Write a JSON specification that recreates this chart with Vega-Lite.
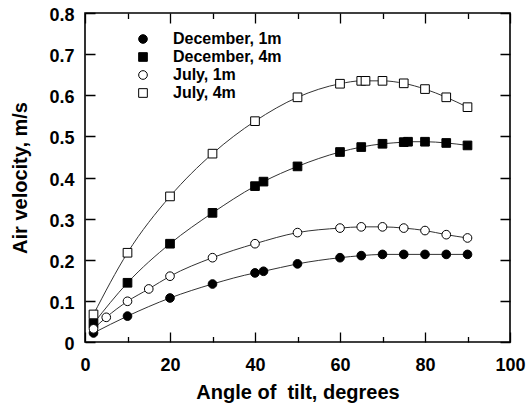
{
  "$schema": "https://vega.github.io/schema/vega-lite/v6.json",
  "width": 425,
  "height": 329,
  "autosize": {"type": "none"},
  "padding": {"left": 85, "top": 13, "right": 17, "bottom": 61},
  "background": "white",
  "config": {
    "view": {"stroke": "black", "strokeWidth": 1.6},
    "font": "Liberation Sans",
    "axis": {"labelFont": "Liberation Sans", "titleFont": "Liberation Sans", "labelFontWeight": "bold", "titleFontWeight": "bold", "labelColor": "black", "titleColor": "black", "labelFontSize": 18, "titleFontSize": 20, "labelFlush": false},
    "legend": {"orient": "none", "legendX": 50, "legendY": 18, "title": null, "padding": 0, "labelFont": "Liberation Sans", "labelFontWeight": "bold", "labelFontSize": 16, "labelColor": "black", "labelOffset": 22, "symbolStrokeColor": "black", "symbolStrokeWidth": 1, "symbolSize": 75, "rowPadding": 2, "clipHeight": 16}
  },
  "data": {"values": [
    {"series": "December, 1m", "x": 2, "y": 0.022},
    {"series": "December, 1m", "x": 10, "y": 0.063},
    {"series": "December, 1m", "x": 20, "y": 0.107},
    {"series": "December, 1m", "x": 30, "y": 0.141},
    {"series": "December, 1m", "x": 40, "y": 0.168},
    {"series": "December, 1m", "x": 42, "y": 0.172},
    {"series": "December, 1m", "x": 50, "y": 0.19},
    {"series": "December, 1m", "x": 60, "y": 0.205},
    {"series": "December, 1m", "x": 65, "y": 0.21},
    {"series": "December, 1m", "x": 70, "y": 0.213},
    {"series": "December, 1m", "x": 75, "y": 0.213},
    {"series": "December, 1m", "x": 80, "y": 0.213},
    {"series": "December, 1m", "x": 85, "y": 0.213},
    {"series": "December, 1m", "x": 90, "y": 0.213},
    {"series": "December, 4m", "x": 2, "y": 0.045},
    {"series": "December, 4m", "x": 10, "y": 0.144},
    {"series": "December, 4m", "x": 20, "y": 0.239},
    {"series": "December, 4m", "x": 30, "y": 0.314},
    {"series": "December, 4m", "x": 40, "y": 0.379},
    {"series": "December, 4m", "x": 42, "y": 0.39},
    {"series": "December, 4m", "x": 50, "y": 0.427},
    {"series": "December, 4m", "x": 60, "y": 0.462},
    {"series": "December, 4m", "x": 65, "y": 0.474},
    {"series": "December, 4m", "x": 70, "y": 0.482},
    {"series": "December, 4m", "x": 75, "y": 0.486},
    {"series": "December, 4m", "x": 76, "y": 0.487},
    {"series": "December, 4m", "x": 80, "y": 0.487},
    {"series": "December, 4m", "x": 85, "y": 0.484},
    {"series": "December, 4m", "x": 90, "y": 0.478},
    {"series": "July, 1m", "x": 2, "y": 0.032},
    {"series": "July, 1m", "x": 5, "y": 0.06},
    {"series": "July, 1m", "x": 10, "y": 0.099},
    {"series": "July, 1m", "x": 15, "y": 0.129},
    {"series": "July, 1m", "x": 20, "y": 0.16},
    {"series": "July, 1m", "x": 30, "y": 0.205},
    {"series": "July, 1m", "x": 40, "y": 0.239},
    {"series": "July, 1m", "x": 50, "y": 0.266},
    {"series": "July, 1m", "x": 60, "y": 0.277},
    {"series": "July, 1m", "x": 65, "y": 0.28},
    {"series": "July, 1m", "x": 70, "y": 0.28},
    {"series": "July, 1m", "x": 75, "y": 0.277},
    {"series": "July, 1m", "x": 80, "y": 0.271},
    {"series": "July, 1m", "x": 85, "y": 0.261},
    {"series": "July, 1m", "x": 90, "y": 0.253},
    {"series": "July, 4m", "x": 2, "y": 0.067},
    {"series": "July, 4m", "x": 10, "y": 0.217},
    {"series": "July, 4m", "x": 20, "y": 0.354},
    {"series": "July, 4m", "x": 30, "y": 0.458},
    {"series": "July, 4m", "x": 40, "y": 0.537},
    {"series": "July, 4m", "x": 50, "y": 0.595},
    {"series": "July, 4m", "x": 60, "y": 0.628},
    {"series": "July, 4m", "x": 65, "y": 0.635},
    {"series": "July, 4m", "x": 66, "y": 0.635},
    {"series": "July, 4m", "x": 70, "y": 0.635},
    {"series": "July, 4m", "x": 75, "y": 0.629},
    {"series": "July, 4m", "x": 80, "y": 0.615},
    {"series": "July, 4m", "x": 85, "y": 0.595},
    {"series": "July, 4m", "x": 90, "y": 0.571}
  ]},
  "layer": [
    {
      "mark": {"type": "line", "interpolate": "monotone", "color": "#333333", "strokeWidth": 1},
      "encoding": {
        "x": {"field": "x", "type": "quantitative", "scale": {"domain": [0, 100], "nice": false},
          "axis": {"orient": "bottom", "values": [0, 20, 40, 60, 80, 100], "ticks": false, "tickSize": 0, "domain": false, "grid": true, "gridColor": "black", "gridOpacity": 1, "gridWidth": 1.3, "gridDash": [10, 309, 10], "labelPadding": 14, "title": "Angle of\u00a0 tilt, degrees", "titlePadding": 8}},
        "y": {"field": "y", "type": "quantitative", "scale": {"domain": [0, 0.8], "nice": false},
          "axis": {"orient": "left", "values": [0, 0.1, 0.2, 0.3, 0.4, 0.5, 0.6, 0.7, 0.8], "format": ".1~f", "ticks": false, "tickSize": 0, "domain": false, "grid": true, "gridColor": "black", "gridOpacity": 1, "gridWidth": 1.3, "gridDash": [10, 405, 10], "labelPadding": 11, "labelOffset": 2.5, "title": "Air velocity, m/s", "titlePadding": 18}},
        "detail": {"field": "series"}
      }
    },
    {
      "mark": {"type": "point", "strokeWidth": 1, "size": 75, "opacity": 1},
      "encoding": {
        "x": {"field": "x", "type": "quantitative",
          "axis": {"orient": "top", "values": [10, 30, 50, 70, 90], "ticks": false, "tickSize": 0, "domain": false, "labels": false, "title": null, "grid": true, "gridColor": "black", "gridOpacity": 1, "gridWidth": 1.3, "gridDash": [5.5, 318, 5.5]}},
        "y": {"field": "y", "type": "quantitative"},
        "shape": {"field": "series", "type": "nominal", "scale": {"domain": ["December, 1m", "December, 4m", "July, 1m", "July, 4m"], "range": ["circle", "square", "circle", "square"]}},
        "fill": {"field": "series", "type": "nominal", "scale": {"domain": ["December, 1m", "December, 4m", "July, 1m", "July, 4m"], "range": ["black", "black", "white", "white"]}},
        "stroke": {"field": "series", "type": "nominal", "scale": {"domain": ["December, 1m", "December, 4m", "July, 1m", "July, 4m"], "range": ["black", "black", "black", "black"]}}
      }
    }
  ],
  "resolve": {"axis": {"x": "independent"}}
}
